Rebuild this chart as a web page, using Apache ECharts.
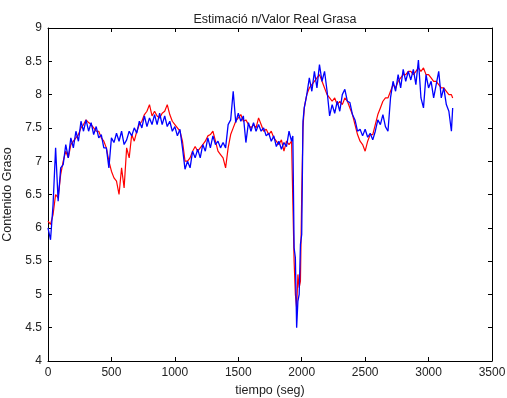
<!DOCTYPE html>
<html>
<head>
<meta charset="utf-8">
<script src="https://cdn.jsdelivr.net/npm/echarts@6/dist/echarts.min.js"></script>
<style>
  html, body { margin: 0; padding: 0; background: #fff; }
  #chart { width: 507px; height: 398px; }
</style>
</head>
<body>
<div id="chart"></div>
<script>
// sample times (seg)
const tiempo = [
  0, 20, 40, 60, 80, 100, 120, 140, 160, 180, 200, 220, 240, 260, 280, 300, 320, 340, 360, 380, 400, 420, 440, 460, 480,
  500, 520, 540, 560, 580, 600, 620, 640, 660, 680, 700, 720, 740, 760, 780, 800, 820, 840, 860, 880, 900, 920, 940, 960, 980,
  1000, 1020, 1040, 1060, 1080, 1100, 1120, 1140, 1160, 1180, 1200, 1220, 1240, 1260, 1280, 1300, 1320, 1340, 1360, 1380, 1400, 1420, 1440, 1460, 1480,
  1500, 1520, 1540, 1560, 1580, 1600, 1620, 1640, 1660, 1680, 1700, 1720, 1740, 1760, 1780, 1800, 1820, 1840, 1860, 1880, 1900, 1920, 1930,
  1940, 1950, 1960, 1970, 1980, 1990, 2000, 2010, 2020,
  2040, 2060, 2080, 2100, 2120, 2140, 2160, 2180, 2200, 2220, 2240, 2260, 2280, 2300, 2320, 2340, 2360, 2380, 2400, 2420, 2440, 2460, 2480,
  2500, 2520, 2540, 2560, 2580, 2600, 2620, 2640, 2660, 2680, 2700, 2720, 2740, 2760, 2780, 2800, 2820, 2840, 2860, 2880, 2900, 2920, 2940, 2960, 2980,
  3000, 3020, 3040, 3060, 3080, 3100, 3120, 3140, 3160, 3180, 3190
];

// red line (estimacion)
const estimacion = [
  6.1, 6.05, 6.2, 6.5, 6.45, 6.8, 7.0, 7.15, 7.05, 7.25, 7.3, 7.35, 7.4, 7.5, 7.55, 7.62, 7.58, 7.55, 7.5, 7.45, 7.45, 7.35, 7.3, 7.2, 7.0,
  6.85, 6.75, 6.7, 6.5, 6.9, 6.6, 7.2, 7.05, 7.4, 7.3, 7.45, 7.55, 7.6, 7.7, 7.75, 7.85, 7.68, 7.75, 7.68, 7.65, 7.72, 7.75, 7.85, 7.7, 7.6,
  7.55, 7.5, 7.45, 7.3, 7.0, 7.0, 7.05, 7.15, 7.22, 7.15, 7.2, 7.25, 7.3, 7.38, 7.4, 7.45, 7.3, 7.15, 7.1, 7.05, 6.9, 7.2, 7.4, 7.5, 7.6,
  7.65, 7.7, 7.6, 7.62, 7.55, 7.5, 7.55, 7.5, 7.65, 7.55, 7.45, 7.48, 7.4, 7.45, 7.35, 7.3, 7.25, 7.32, 7.15, 7.3, 7.25, 7.3, 7.3,
  5.5, 5.0, 4.8, 5.3, 5.1, 5.2, 6.5, 7.5, 7.8,
  8.0, 8.1, 8.15, 8.2, 8.25, 8.3, 8.2, 8.1, 8.0, 7.95, 7.9, 7.95, 7.85, 7.9, 7.85, 7.95, 7.9, 7.8, 7.7, 7.55, 7.4, 7.3, 7.25,
  7.15, 7.3, 7.4, 7.4, 7.55, 7.7, 7.8, 7.9, 7.95, 7.95, 8.05, 8.15, 8.1, 8.2, 8.25, 8.3, 8.3, 8.35, 8.35, 8.3, 8.35, 8.4, 8.35, 8.4, 8.3,
  8.3, 8.25, 8.2, 8.2, 8.15, 8.1, 8.1, 8.05, 8.0, 8.0, 7.95
];

// blue line (valor real)
const valorReal = [
  6.0, 5.82, 6.35, 7.2, 6.4, 6.9, 6.95, 7.25, 7.05, 7.35, 7.2, 7.45, 7.3, 7.6, 7.45, 7.62, 7.45, 7.58, 7.4, 7.52, 7.35, 7.4, 7.2, 7.2, 6.9,
  7.35, 7.28, 7.42, 7.3, 7.45, 7.25, 7.32, 7.45, 7.38, 7.5, 7.42, 7.6, 7.5, 7.68, 7.52, 7.65, 7.55, 7.7, 7.55, 7.72, 7.55, 7.68, 7.52, 7.6, 7.45,
  7.52, 7.38, 7.48, 7.2, 6.88, 7.0, 6.9, 7.15, 7.05, 7.18, 7.05, 7.25, 7.15, 7.35, 7.2, 7.38, 7.25, 7.3, 7.2, 7.28, 7.2, 7.55, 7.62, 8.05, 7.58,
  7.72, 7.6, 7.68, 7.28, 7.58, 7.45, 7.58, 7.45, 7.55, 7.45, 7.5, 7.38, 7.42, 7.3, 7.38, 7.22, 7.3, 7.18, 7.28, 7.22, 7.45, 7.3, 7.38,
  5.7, 5.55, 4.5, 4.9, 5.0, 5.75, 5.9, 7.6, 7.8,
  8.0, 8.25, 8.05, 8.35, 8.1, 8.45, 8.2, 8.35, 8.05, 7.68, 7.85, 7.72, 7.9, 7.75, 8.0, 8.08, 7.9, 7.88, 7.7, 7.62, 7.45, 7.48, 7.38,
  7.48, 7.36, 7.42, 7.32, 7.45, 7.62, 7.55, 7.7, 7.52, 7.45, 7.95, 8.2, 8.05, 8.3, 8.1, 8.38, 8.2, 8.35, 8.22, 8.38, 8.15, 8.52, 7.95, 7.8, 8.3,
  8.1, 8.2, 7.95, 8.15, 8.35, 7.95, 8.1, 7.85, 7.75, 7.45, 7.8
];

const xTicks = [0, 3500, 500];
const yTicks = [4, 9, 0.5];

const font = 'Liberation Sans, Arial, sans-serif';
const chart = echarts.init(document.getElementById('chart'), null, { renderer: 'canvas' });

const pairs = vals => tiempo.map((t, i) => [t, vals[i]]);

const axisBase = {
  type: 'value',
  axisLine: { show: true, onZero: false, lineStyle: { color: '#000', width: 1 } },
  axisTick: { show: true, inside: true, length: 4, lineStyle: { color: '#000' } },
  splitLine: { show: false }
};

chart.setOption({
  animation: false,
  backgroundColor: '#fff',
  title: {
    text: 'Estimació n/Valor Real Grasa',
    left: 270,
    top: 8,
    textAlign: 'center',
    textStyle: { fontFamily: font, fontSize: 12.5, fontWeight: 'normal', color: '#222' }
  },
  grid: { left: 48, right: 15, top: 28, bottom: 37, containLabel: false, outerBoundsMode: 'none' },
  xAxis: [
    Object.assign({}, axisBase, {
      position: 'bottom',
      min: xTicks[0], max: xTicks[1], interval: xTicks[2],
      name: 'tiempo (seg)',
      nameLocation: 'middle',
      nameGap: 23,
      nameTextStyle: { fontFamily: font, fontSize: 12.5, color: '#222' },
      axisLabel: { fontFamily: font, fontSize: 12, color: '#222', margin: 6, formatter: v => String(v) }
    }),
    Object.assign({}, axisBase, {
      position: 'top',
      min: xTicks[0], max: xTicks[1], interval: xTicks[2],
      axisLabel: { show: false }
    })
  ],
  yAxis: [
    Object.assign({}, axisBase, {
      position: 'left',
      min: yTicks[0], max: yTicks[1], interval: yTicks[2],
      name: 'Contenido Graso',
      nameLocation: 'middle',
      nameGap: 30,
      nameTextStyle: { fontFamily: font, fontSize: 12.5, color: '#222' },
      axisLabel: { fontFamily: font, fontSize: 12, color: '#222', margin: 6, formatter: v => String(v) }
    }),
    Object.assign({}, axisBase, {
      position: 'right',
      min: yTicks[0], max: yTicks[1], interval: yTicks[2],
      axisLabel: { show: false }
    })
  ],
  series: [
    {
      name: 'Estimación',
      type: 'line',
      data: pairs(estimacion),
      showSymbol: false,
      lineStyle: { color: '#ff0000', width: 1.2 },
      itemStyle: { color: '#ff0000' }
    },
    {
      name: 'Valor Real',
      type: 'line',
      data: pairs(valorReal),
      showSymbol: false,
      lineStyle: { color: '#0000ff', width: 1.3 },
      itemStyle: { color: '#0000ff' }
    }
  ]
});
</script>
</body>
</html>
